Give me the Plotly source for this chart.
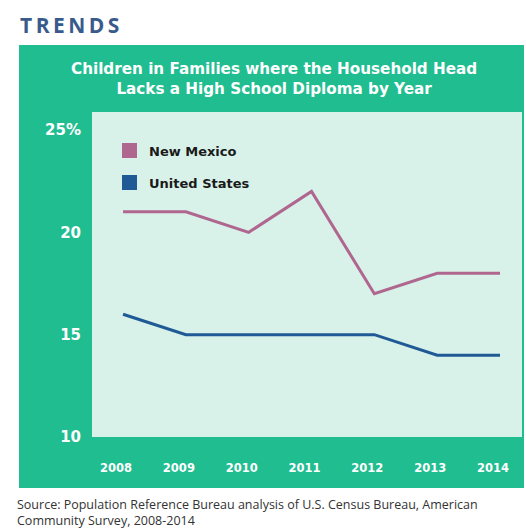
import plotly.graph_objects as go

years = [2008, 2009, 2010, 2011, 2012, 2013, 2014]
new_mexico = [21, 21, 20, 22, 17, 18, 18]
united_states = [16, 15, 15, 15, 15, 14, 14]
y_ticks = [10, 15, 20, 25]
y_tick_text = ["10", "15", "20", "25%"]
series_names = ["New Mexico", "United States"]

W, H = 526, 531
L, R, T, B = 92, 4, 112, 94
PW, PH = W - L - R, H - T - B


def xp(px):
    return (px - L) / PW


def yp(py):
    return (H - B - py) / PH


NM_COLOR = "#b0678f"
US_COLOR = "#1f5a96"
GREEN = "#20bd90"
PLOT_BG = "#d9f2e9"
FONT = "Open Sans"
BOLD = "DejaVu Sans"

fig = go.Figure()
fig.add_trace(go.Scatter(x=years, y=new_mexico, mode="lines", name=series_names[0],
                         line=dict(color=NM_COLOR, width=3)))
fig.add_trace(go.Scatter(x=years, y=united_states, mode="lines", name=series_names[1],
                         line=dict(color=US_COLOR, width=3)))

shapes = [
    dict(type="rect", xref="paper", yref="paper", x0=xp(19), x1=xp(524), y0=yp(488), y1=yp(45),
         fillcolor=GREEN, line=dict(width=0), layer="below"),
    dict(type="rect", xref="paper", yref="paper", x0=0, x1=1, y0=0, y1=1,
         fillcolor=PLOT_BG, line=dict(width=0), layer="below"),
    dict(type="rect", xref="paper", yref="paper", x0=xp(122), x1=xp(137), y0=yp(158), y1=yp(143),
         fillcolor=NM_COLOR, line=dict(width=0)),
    dict(type="rect", xref="paper", yref="paper", x0=xp(122), x1=xp(137), y0=yp(190), y1=yp(175),
         fillcolor=US_COLOR, line=dict(width=0)),
]

annotations = [
    dict(text="T\u2009R\u2009E\u2009N\u2009D\u2009S", x=xp(18), y=yp(25), xref="paper", yref="paper",
         xanchor="left", yanchor="middle",
         showarrow=False, font=dict(family=FONT, size=21, color="#395b8c", weight="bold")),
    dict(text="Children in Families where the Household Head<br>Lacks a High School Diploma by Year",
         x=xp(274), y=yp(79), xref="paper", yref="paper", xanchor="center", yanchor="middle",
         showarrow=False, font=dict(family=BOLD, size=15.2, color="white", weight="bold"),
         align="center"),
    dict(text=series_names[0], x=xp(147), y=yp(151), xref="paper", yref="paper", xanchor="left",
         yanchor="middle", showarrow=False, font=dict(family=BOLD, size=13, color="#1a1a1a", weight="bold")),
    dict(text=series_names[1], x=xp(147), y=yp(183), xref="paper", yref="paper", xanchor="left",
         yanchor="middle", showarrow=False, font=dict(family=BOLD, size=13, color="#1a1a1a", weight="bold")),
    dict(text="Source: Population Reference Bureau analysis of U.S. Census Bureau, American<br>Community Survey, 2008-2014",
         x=xp(15), y=yp(512), xref="paper", yref="paper", xanchor="left", yanchor="middle",
         showarrow=False, align="left", font=dict(family=FONT, size=12.5, color="#333333")),
]

fig.update_layout(
    width=W, height=H,
    margin=dict(l=L, r=R, t=T, b=B, pad=0),
    paper_bgcolor="white",
    plot_bgcolor=PLOT_BG,
    showlegend=False,
    shapes=shapes,
    annotations=annotations,
    xaxis=dict(range=[2007.506, 2014.35], tickvals=years, ticktext=[str(y) for y in years],
               showgrid=False, zeroline=False, showline=False, ticks="",
               tickfont=dict(family=BOLD, size=11.5, color="white", weight="bold"),
               ticklabelstandoff=22, ticklabelshift=-7),
    yaxis=dict(range=[10, 25.88], tickvals=y_ticks, ticktext=y_tick_text,
               showgrid=False, zeroline=False, showline=False, ticks="",
               tickfont=dict(family=BOLD, size=15, color="white", weight="bold"),
               ticklabelstandoff=10),
)

fig.write_html("out.html", config={"displayModeBar": False},
               post_script="document.body.style.margin='0';document.body.style.overflow='hidden';")
